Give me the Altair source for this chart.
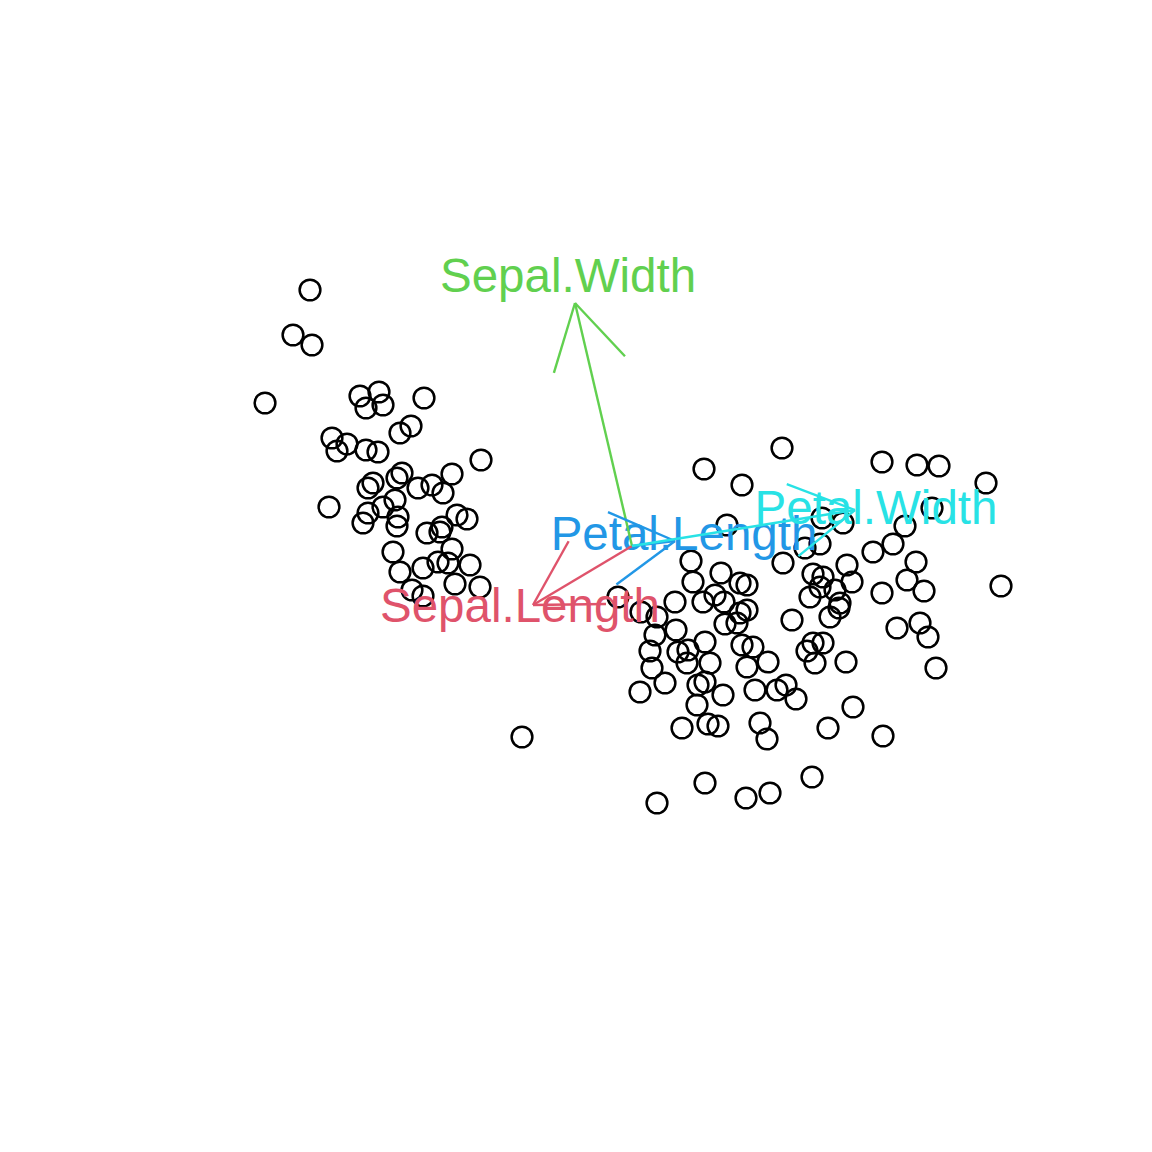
import math
import altair as alt
import pandas as pd

setosa_x = [310, 293, 312, 265, 360, 379, 366, 383, 424, 411, 400, 332, 347, 337, 366, 378,
            481, 402, 397, 452, 432, 418, 443, 373, 368, 395, 383, 329, 368, 398, 363, 397,
            457, 467, 442, 440, 427, 393, 452, 438, 448, 470, 400, 423, 455, 480, 412, 423, 522]
setosa_y = [290, 335, 345, 403, 396, 392, 408, 405, 398, 426, 433, 438, 444, 451, 450, 452,
            460, 473, 478, 474, 485, 488, 493, 483, 488, 500, 507, 507, 513, 517, 523, 526,
            515, 519, 527, 532, 533, 552, 549, 562, 563, 565, 572, 568, 584, 587, 590, 596, 737]

other_x = [782, 704, 742, 727, 691, 783, 693, 721, 740, 747, 715, 703, 724, 675, 618, 747,
           740, 725, 737, 657, 655, 676, 641, 792, 810, 805, 813, 882, 917, 939, 986, 932,
           905, 822, 843, 820, 893, 873, 916, 847, 907, 924, 852, 882, 1001, 823, 820, 835,
           840, 830, 897, 920, 928, 936, 846, 815, 813, 823, 807, 839, 796, 853, 828, 883,
           650, 678, 688, 705, 687, 710, 652, 742, 753, 747, 768, 665, 640, 698, 705, 697,
           723, 755, 777, 786, 682, 708, 718, 760, 767, 705, 657, 746, 770, 812]
other_y = [448, 469, 485, 525, 561, 563, 582, 573, 583, 585, 595, 602, 602, 602, 597, 610,
           613, 624, 623, 617, 635, 630, 612, 620, 597, 548, 574, 462, 465, 466, 483, 508,
           526, 518, 523, 544, 544, 552, 562, 565, 580, 591, 582, 593, 586, 577, 587, 590,
           603, 617, 628, 623, 637, 668, 662, 663, 643, 643, 651, 608, 699, 707, 728, 736,
           651, 652, 650, 642, 663, 663, 668, 645, 647, 667, 662, 683, 692, 685, 682, 705,
           695, 690, 690, 685, 728, 724, 726, 723, 739, 783, 803, 798, 793, 777]

# Variable arrows (origin and tips) and labels
var_names = ["Sepal.Length", "Sepal.Width", "Petal.Length", "Petal.Width"]
var_colors = ["#DF536B", "#61D04F", "#2297E6", "#28E2E5"]
origin = (632, 546)
tip_x = [533, 575, 675, 855]
tip_y = [605, 303, 541, 510]
label_x = [520, 568, 684, 876]
label_y = [622, 292, 550, 524]

points = pd.DataFrame({"x": setosa_x + other_x, "y": setosa_y + other_y})

head_len = 73
head_ang = math.radians(30)
segs = []
for name, col, tx, ty in zip(var_names, var_colors, tip_x, tip_y):
    segs.append({"name": name, "c": col, "x": origin[0], "y": origin[1], "x2": tx, "y2": ty})
    th = math.atan2(origin[1] - ty, origin[0] - tx)
    for s in (-1, 1):
        a = th + s * head_ang
        segs.append({"name": name, "c": col, "x": tx, "y": ty,
                     "x2": tx + head_len * math.cos(a), "y2": ty + head_len * math.sin(a)})
segs = pd.DataFrame(segs)
labels = pd.DataFrame({"name": var_names, "c": var_colors, "x": label_x, "y": label_y})

W = 1100
xs = alt.Scale(domain=[8, 8 + W], nice=False, zero=False)
ys = alt.Scale(domain=[8, 8 + W], nice=False, zero=False, reverse=True)

pts = alt.Chart(points).mark_point(shape="circle", filled=False, size=430,
                                   strokeWidth=2.5, color="black", opacity=1).encode(
    x=alt.X("x:Q", scale=xs, axis=None),
    y=alt.Y("y:Q", scale=ys, axis=None),
)

txt = alt.Chart(labels).mark_text(font="Liberation Sans", fontSize=47.5, align="center",
                                  baseline="alphabetic").encode(
    x=alt.X("x:Q", scale=xs, axis=None),
    y=alt.Y("y:Q", scale=ys, axis=None),
    text="name:N",
    color=alt.Color("c:N", scale=None),
)

arr = alt.Chart(segs).mark_rule(strokeWidth=2.4).encode(
    x=alt.X("x:Q", scale=xs, axis=None),
    y=alt.Y("y:Q", scale=ys, axis=None),
    x2="x2:Q",
    y2="y2:Q",
    color=alt.Color("c:N", scale=None),
)

chart = alt.layer(pts, txt, arr).properties(
    width=W, height=W, padding=0, background="white"
).configure_view(stroke=None)

chart.save("out.html", embed_options={"renderer": "svg", "actions": False})
